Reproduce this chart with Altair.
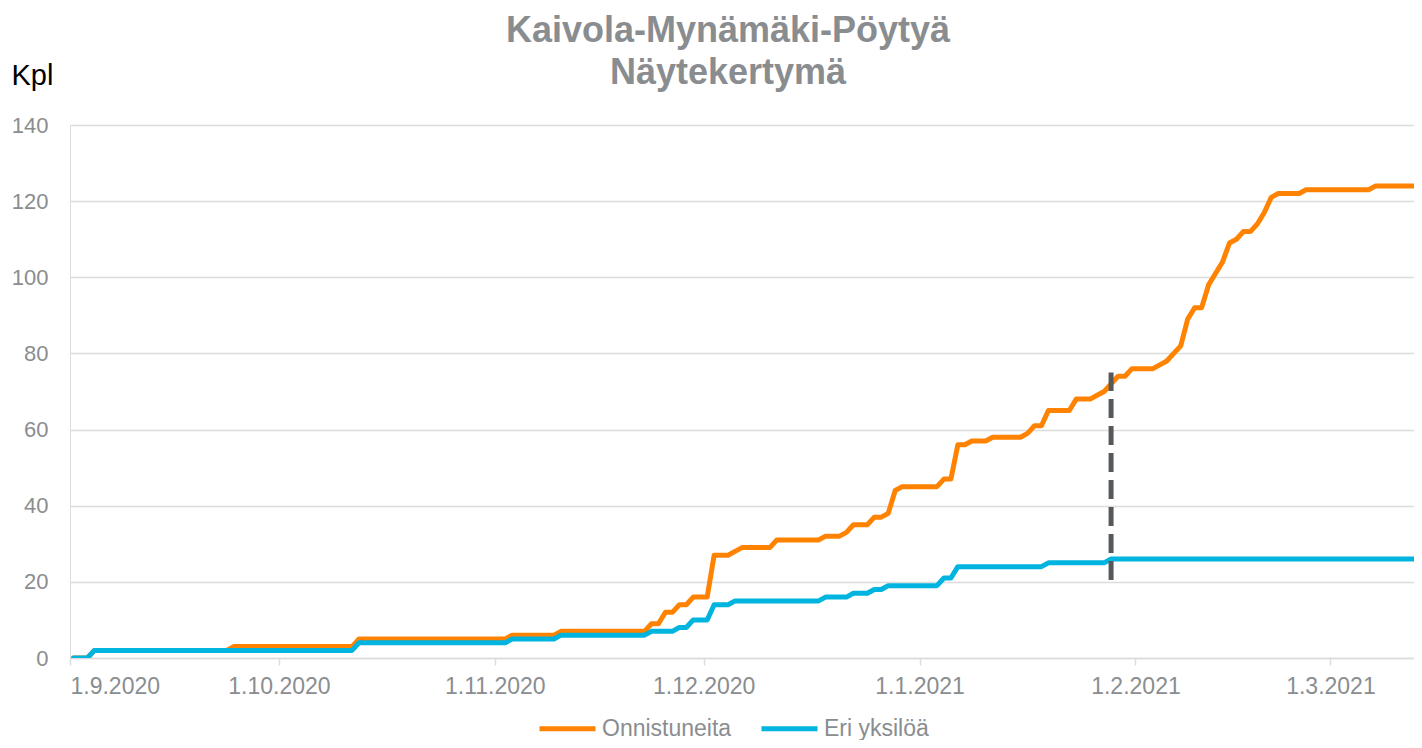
import altair as alt
import pandas as pd

# ---------------- data (vertices of the cumulative step lines) ----------------
series_names = ["Onnistuneita", "Eri yksilöä"]
series_colors = ["#FF8300", "#00B4E0"]

orange_dates = [
    "2020-09-01", "2020-09-03", "2020-09-04", "2020-09-23", "2020-09-24",
    "2020-10-11", "2020-10-12", "2020-11-02", "2020-11-03", "2020-11-09",
    "2020-11-10", "2020-11-22", "2020-11-23", "2020-11-24", "2020-11-25",
    "2020-11-26", "2020-11-27", "2020-11-28", "2020-11-29", "2020-12-01",
    "2020-12-02", "2020-12-04", "2020-12-05", "2020-12-06", "2020-12-10",
    "2020-12-11", "2020-12-17", "2020-12-18", "2020-12-20", "2020-12-21",
    "2020-12-22", "2020-12-24", "2020-12-25", "2020-12-26", "2020-12-27",
    "2020-12-28", "2020-12-29", "2021-01-03", "2021-01-04", "2021-01-05",
    "2021-01-06", "2021-01-07", "2021-01-08", "2021-01-10", "2021-01-11",
    "2021-01-15", "2021-01-16", "2021-01-17", "2021-01-18", "2021-01-19",
    "2021-01-22", "2021-01-23", "2021-01-25", "2021-01-26", "2021-01-27",
    "2021-01-28", "2021-01-29", "2021-01-30", "2021-01-31", "2021-02-03",
    "2021-02-04", "2021-02-05", "2021-02-06", "2021-02-07", "2021-02-08",
    "2021-02-09", "2021-02-10", "2021-02-11", "2021-02-12", "2021-02-13",
    "2021-02-14", "2021-02-15", "2021-02-16", "2021-02-17", "2021-02-18",
    "2021-02-19", "2021-02-20", "2021-02-21", "2021-02-24", "2021-02-25",
    "2021-03-06", "2021-03-07", "2021-03-14",
]
orange_values = [
    0, 0, 2, 2, 3,
    3, 5, 5, 6, 6,
    7, 7, 9, 9, 12,
    12, 14, 14, 16, 16,
    27, 27, 28, 29, 29,
    31, 31, 32, 32, 33,
    35, 35, 37, 37, 38,
    44, 45, 45, 47, 47,
    56, 56, 57, 57, 58,
    58, 59, 61, 61, 65,
    65, 68, 68, 69, 70,
    72, 74, 74, 76, 76,
    77, 78, 80, 82, 89,
    92, 92, 98, 101, 104,
    109, 110, 112, 112, 114,
    117, 121, 122, 122, 123,
    123, 124, 124,
]

blue_dates = [
    "2020-09-01", "2020-09-03", "2020-09-04", "2020-10-11", "2020-10-12",
    "2020-11-02", "2020-11-03", "2020-11-09", "2020-11-10", "2020-11-22",
    "2020-11-23", "2020-11-26", "2020-11-27", "2020-11-28", "2020-11-29",
    "2020-12-01", "2020-12-02", "2020-12-04", "2020-12-05", "2020-12-17",
    "2020-12-18", "2020-12-21", "2020-12-22", "2020-12-24", "2020-12-25",
    "2020-12-26", "2020-12-27", "2021-01-03", "2021-01-04", "2021-01-05",
    "2021-01-06", "2021-01-18", "2021-01-19", "2021-01-27", "2021-01-28",
    "2021-03-14",
]
blue_values = [
    0, 0, 2, 2, 4,
    4, 5, 5, 6, 6,
    7, 7, 8, 8, 10,
    10, 14, 14, 15, 15,
    16, 16, 17, 17, 18,
    18, 19, 19, 21, 21,
    24, 24, 25, 25, 26,
    26,
]

tick_dates = ["2020-09-01", "2020-10-01", "2020-11-01", "2020-12-01",
              "2021-01-01", "2021-02-01", "2021-03-01"]
domain_dates = ["2020-09-01", "2021-03-13"]
y_ticks = [0, 20, 40, 60, 80, 100, 120, 140]

marker_date = "2021-01-28"
marker_low = 20.5
marker_high = 75

# ---------------- build tables ----------------
rows = []
for d, v in zip(orange_dates, orange_values):
    rows.append({"date": d + "T12:00:00", "value": v, "series": series_names[0]})
for d, v in zip(blue_dates, blue_values):
    rows.append({"date": d + "T12:00:00", "value": v, "series": series_names[1]})
df = pd.DataFrame(rows)

rule_df = pd.DataFrame({"date": [marker_date + "T12:00:00"],
                        "value": [marker_low], "high": [marker_high]})


def dt(s):
    y, m, d = map(int, s.split("-"))
    return alt.DateTime(year=y, month=m, date=d)


FONT = "Liberation Sans"
GRAY = "#8A8D90"
GRID = "#DCDCDC"

x_scale = alt.Scale(domain=[dt(s) for s in domain_dates])
y_scale = alt.Scale(domain=[0, 140])

x_axis = alt.Axis(values=[dt(s) for s in tick_dates], format="%-d.%-m.%Y",
                  formatType="time", title=None, grid=False,
                  domainColor=GRID, domainWidth=1.5, tickColor=GRID,
                  tickWidth=1.5, tickSize=7, labelPadding=10,
                  labelFontSize=23, labelColor=GRAY, labelFont=FONT,
                  labelBaseline="top")
y_axis = alt.Axis(values=y_ticks, title="Kpl", titleAngle=0, titleX=-59,
                  titleY=-41, titleAlign="left", titleBaseline="alphabetic",
                  titleFontSize=29, titleFontWeight="normal",
                  titleColor="#000000", titleFont=FONT,
                  grid=True, gridColor=GRID, gridWidth=1.5,
                  domain=False, ticks=False, labelPadding=22,
                  labelFontSize=22, labelColor=GRAY, labelFont=FONT)

lines = alt.Chart(df).mark_line(
    strokeWidth=5, strokeCap="round", strokeJoin="round", clip=True
).encode(
    x=alt.X("date:T", scale=x_scale, axis=x_axis),
    y=alt.Y("value:Q", scale=y_scale, axis=y_axis),
    color=alt.Color(
        "series:N",
        scale=alt.Scale(domain=series_names, range=series_colors),
        legend=alt.Legend(
            orient="none", legendX=467, legendY=573, direction="horizontal",
            title=None, symbolType="stroke", symbolSize=3136,
            symbolStrokeWidth=5, labelFontSize=23, labelColor=GRAY,
            labelFont=FONT, labelOffset=4, columnPadding=19, padding=0,
        ),
    ),
)

rule = alt.Chart(rule_df).mark_rule(
    strokeWidth=5, strokeDash=[19, 8], color="#56595B", clip=True
).encode(
    x=alt.X("date:T", scale=x_scale, axis=x_axis),
    y=alt.Y("value:Q", scale=y_scale, axis=y_axis),
    y2="high:Q",
)

chart = alt.layer(lines, rule).properties(
    width=1344,
    height=533,
    autosize="none",
    padding={"left": 62, "top": 117, "right": 0, "bottom": 82},
    title=alt.TitleParams(
        text=["Kaivola-Mynämäki-Pöytyä", "Näytekertymä"],
        anchor="middle", fontSize=36, fontWeight="bold", color=GRAY,
        font=FONT, lineHeight=42, dx=-14, dy=25, offset=-6,
    ),
).configure_view(stroke=None).configure(font=FONT)

chart.save("out.html", embed_options={"renderer": "svg", "actions": False})
